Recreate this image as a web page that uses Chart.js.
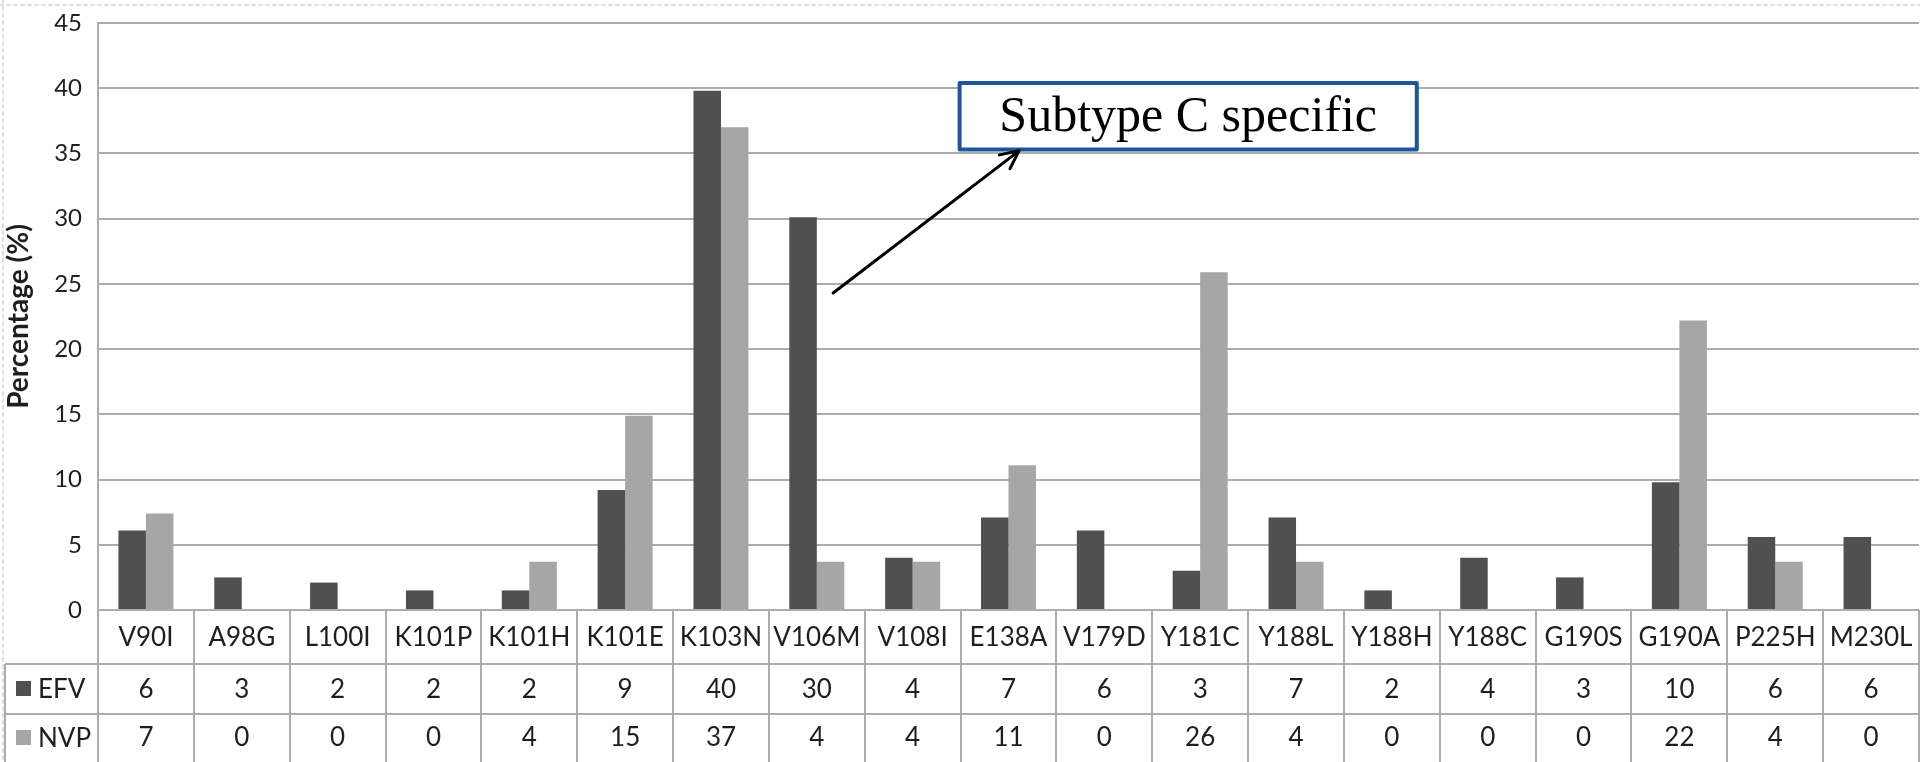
<!DOCTYPE html>
<html>
<head>
<meta charset="utf-8">
<script src="https://cdn.jsdelivr.net/npm/chart.js@4"></script>
<style>
  html, body { margin: 0; padding: 0; background: #fff; }
  #wrap { width: 1920px; height: 762px; position: relative; }
</style>
</head>
<body>
<div id="wrap"><canvas id="myChart"></canvas></div>
<script>
/* data */
const categories = ['V90I', 'A98G', 'L100I', 'K101P', 'K101H', 'K101E', 'K103N', 'V106M', 'V108I', 'E138A',
  'V179D', 'Y181C', 'Y188L', 'Y188H', 'Y188C', 'G190S', 'G190A', 'P225H', 'M230L'];
const efvValues = [6.1, 2.5, 2.1, 1.5, 1.5, 9.2, 39.8, 30.1, 4.0, 7.1, 6.1, 3.0, 7.1, 1.5, 4.0, 2.5, 9.8, 5.6, 5.6];
const nvpValues = [7.4, 0, 0, 0, 3.7, 14.9, 37.0, 3.7, 3.7, 11.1, 0, 25.9, 3.7, 0, 0, 0, 22.2, 3.7, 0];
const efvTable = [6, 3, 2, 2, 2, 9, 40, 30, 4, 7, 6, 3, 7, 2, 4, 3, 10, 6, 6];
const nvpTable = [7, 0, 0, 0, 4, 15, 37, 4, 4, 11, 0, 26, 4, 0, 0, 0, 22, 4, 0];
const yMax = 45;
const yStep = 5;
const seriesNames = ['EFV', 'NVP'];
const seriesColors = ['#505050', '#a6a6a6'];
const noteText = 'Subtype C specific';

const lineColor = '#acacac';

/* data table under the plot, lined up on the x scale */
const tablePlugin = {
  id: 'dataTable',
  afterDraw(chart) {
    const ctx = chart.ctx;
    const x = chart.scales.x;
    const area = chart.chartArea;
    const n = categories.length;
    const half = (x.getPixelForValue(1) - x.getPixelForValue(0)) / 2;
    const top = area.bottom;
    const r1 = top + 54, r2 = r1 + 50, bottom = chart.height;
    const leftEdge = 5;

    ctx.save();
    ctx.strokeStyle = lineColor;
    ctx.lineWidth = 2;
    ctx.beginPath();
    for (let i = 0; i <= n; i++) {
      const xb = Math.round(x.getPixelForValue(Math.min(i, n - 1)) + (i < n ? -half : half));
      ctx.moveTo(xb, top); ctx.lineTo(xb, bottom);
    }
    ctx.moveTo(leftEdge, r1); ctx.lineTo(leftEdge, bottom);
    ctx.moveTo(leftEdge, r1); ctx.lineTo(area.right, r1);
    ctx.moveTo(leftEdge, r2); ctx.lineTo(area.right, r2);
    ctx.stroke();

    ctx.fillStyle = '#1e1e1e';
    ctx.font = '26px Lato';
    ctx.textAlign = 'center';
    ctx.textBaseline = 'middle';
    for (let i = 0; i < n; i++) {
      const cx = x.getPixelForValue(i);
      ctx.fillText(categories[i], cx, (top + r1) / 2 + 1);
      ctx.fillText(String(efvTable[i]), cx, (r1 + r2) / 2 + 1);
      ctx.fillText(String(nvpTable[i]), cx, (r2 + bottom) / 2);
    }

    // legend keys in the first column
    const rows = [(r1 + r2) / 2, (r2 + bottom) / 2];
    ctx.textAlign = 'left';
    rows.forEach((cy, k) => {
      ctx.fillStyle = seriesColors[k];
      ctx.fillRect(16, cy - 8, 15, 15);
      ctx.fillStyle = '#1e1e1e';
      ctx.fillText(seriesNames[k], 38, cy + 1);
    });
    ctx.restore();
  }
};

/* callout box and arrow, placed in data units */
const notePlugin = {
  id: 'note',
  afterDatasetsDraw(chart) {
    const ctx = chart.ctx;
    const x = chart.scales.x, y = chart.scales.y;
    const bx1 = x.getPixelForValue(8.49), bx2 = x.getPixelForValue(13.26);
    const by1 = y.getPixelForValue(40.4), by2 = y.getPixelForValue(35.3);

    ctx.save();
    ctx.fillStyle = '#fff';
    ctx.fillRect(bx1, by1, bx2 - bx1, by2 - by1);
    ctx.strokeStyle = '#1d5796';
    ctx.lineWidth = 4;
    ctx.lineJoin = 'round';
    ctx.strokeRect(bx1, by1, bx2 - bx1, by2 - by1);
    ctx.fillStyle = '#000';
    ctx.font = '50px "Liberation Serif"';
    ctx.textAlign = 'center';
    ctx.textBaseline = 'middle';
    ctx.fillText(noteText, (bx1 + bx2) / 2, (by1 + by2) / 2 + 2);

    // arrow
    const ax1 = x.getPixelForValue(7.17), ay1 = y.getPixelForValue(24.3);
    const ax2 = x.getPixelForValue(9.11), ay2 = y.getPixelForValue(35.2);
    const ang = Math.atan2(ay2 - ay1, ax2 - ax1);
    ctx.strokeStyle = '#000';
    ctx.lineWidth = 3;
    ctx.lineCap = 'round';
    ctx.beginPath();
    ctx.moveTo(ax1, ay1); ctx.lineTo(ax2, ay2);
    const hl = 20;
    ctx.moveTo(ax2 - hl * Math.cos(ang - 0.45), ay2 - hl * Math.sin(ang - 0.45));
    ctx.lineTo(ax2, ay2);
    ctx.lineTo(ax2 - hl * Math.cos(ang + 0.45), ay2 - hl * Math.sin(ang + 0.45));
    ctx.stroke();

    // faint dotted page edge
    ctx.strokeStyle = '#dedede';
    ctx.lineWidth = 2;
    ctx.setLineDash([3, 4]);
    ctx.beginPath();
    ctx.moveTo(0, 5); ctx.lineTo(chart.width, 5);
    ctx.moveTo(3, 0); ctx.lineTo(3, chart.height);
    ctx.stroke();
    ctx.restore();
  }
};

function initChart() {
  const ctx = document.getElementById('myChart');
  new Chart(ctx, {
    type: 'bar',
    data: {
      labels: categories,
      datasets: [
        { label: seriesNames[0], data: efvValues, backgroundColor: seriesColors[0] },
        { label: seriesNames[1], data: nvpValues, backgroundColor: seriesColors[1] }
      ]
    },
    options: {
      responsive: true,
      maintainAspectRatio: false,
      animation: false,
      datasets: {
        bar: { categoryPercentage: 0.574, barPercentage: 1.0 }
      },
      layout: { padding: { top: 23, right: 1, bottom: 152, left: 0 } },
      plugins: {
        legend: { display: false },
        tooltip: { enabled: false }
      },
      scales: {
        x: { display: false },
        y: {
          min: 0,
          max: yMax,
          ticks: {
            stepSize: yStep,
            padding: 16,
            color: '#1e1e1e',
            font: { family: 'Lato', size: 24 }
          },
          grid: { color: lineColor, lineWidth: 2, drawTicks: false },
          border: { color: lineColor, width: 2 },
          title: {
            display: true,
            text: 'Percentage (%)',
            color: '#1e1e1e',
            font: { family: 'Lato', size: 28, weight: 'bold' },
            padding: { top: 2, bottom: 2 }
          },
          afterFit(scale) {
            scale.width = 98;
            scale.paddingTop = 0;
            scale.paddingBottom = 0;
          }
        }
      }
    },
    plugins: [tablePlugin, notePlugin]
  });
}

initChart();
</script>
</body>
</html>
